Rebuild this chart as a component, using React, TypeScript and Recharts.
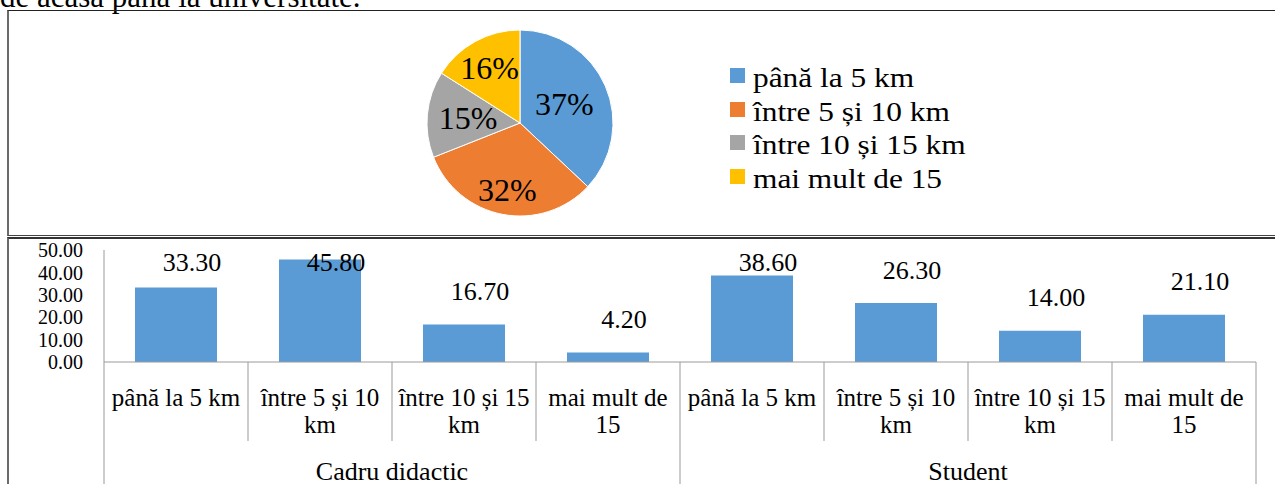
import { PieChart, Pie, Cell, Legend, BarChart, Bar, XAxis, YAxis, LabelList, Text } from "recharts";

const distanceLabels = ["până la 5 km", "între 5 și 10 km", "între 10 și 15 km", "mai mult de 15"];
const pieShares = [37, 32, 15, 16];
const respondentGroups = ["Cadru didactic", "Student"];
const cadruValues = [33.3, 45.8, 16.7, 4.2];
const studentValues = [38.6, 26.3, 14.0, 21.1];
const yTicks = [0, 10, 20, 30, 40, 50];

const pieColors = ["#5B9BD5", "#ED7D31", "#A5A5A5", "#FFC000"];
// Word put the pie labels at slightly different distances from the centre
const labelRadius = [0.52, 0.73, 0.56, 0.68];

const pieData = distanceLabels.map((name, i) => ({ name, value: pieShares[i] }));
const barData = [
  ...distanceLabels.map((name, i) => ({ name, group: respondentGroups[0], value: cadruValues[i] })),
  ...distanceLabels.map((name, i) => ({ name, group: respondentGroups[1], value: studentValues[i] })),
];

const FONT = '"Liberation Serif", "Times New Roman", serif';
const LINE = "#9a9a9a";
const RAD = Math.PI / 180;

// bar chart layout
const CHART_W = 1275;
const AXIS_W = 104;
const RIGHT = 19;
const TOP = 12;
const PLOT_H = 112;
const CAT_H = 79;
const GRP_H = 77;
const CHART_H = TOP + PLOT_H + CAT_H + GRP_H;
const BAND = (CHART_W - AXIS_W - RIGHT) / barData.length;

function PieLabel({ cx, cy, midAngle, outerRadius, index, percent }: any) {
  const r = outerRadius * labelRadius[index];
  const x = cx + r * Math.cos(-midAngle * RAD);
  const y = cy + r * Math.sin(-midAngle * RAD);
  return (
    <text x={x} y={y} textAnchor="middle" dominantBaseline="central" fontSize={32} fontFamily={FONT} fill="#000">
      {`${Math.round(percent * 100)}%`}
    </text>
  );
}

function PieLegend() {
  return (
    <div style={{ fontFamily: FONT, color: "#000" }}>
      {distanceLabels.map((label, i) => (
        <div key={label} style={{ display: "flex", alignItems: "center", height: 33.5 }}>
          <span style={{ width: 15, height: 15, background: pieColors[i], marginRight: 8, flex: "none" }} />
          <span
            style={{
              fontSize: 28,
              lineHeight: "33.5px",
              whiteSpace: "nowrap",
              display: "inline-block",
              transform: "translateY(2px) scaleX(1.12)",
              transformOrigin: "left center",
            }}
          >
            {label}
          </span>
        </div>
      ))}
    </div>
  );
}

function CategoryTick({ x, y, payload, index }: any) {
  const half = BAND / 2;
  return (
    <g>
      {index === 0 && <line x1={x - half} x2={x - half} y1={y} y2={y + CAT_H} stroke={LINE} />}
      <line x1={x + half} x2={x + half} y1={y} y2={y + CAT_H} stroke={LINE} />
      <Text
        x={x}
        y={y + 26}
        width={BAND - 4}
        textAnchor="middle"
        verticalAnchor="start"
        lineHeight={27}
        fontSize={25}
        fontFamily={FONT}
        fill="#000"
        style={{ fontSize: "25px", fontFamily: FONT }}
      >
        {payload.value}
      </Text>
    </g>
  );
}

function GroupTick({ x, y, payload, index }: any) {
  const half = BAND / 2;
  const perGroup = distanceLabels.length;
  const first = index % perGroup === 0;
  const last = index === barData.length - 1;
  return (
    <g>
      {first && <line x1={x - half} x2={x - half} y1={y} y2={y + GRP_H} stroke={LINE} />}
      {last && <line x1={x + half} x2={x + half} y1={y} y2={y + GRP_H} stroke={LINE} />}
      {first && (
        <text x={x - half + (BAND * perGroup) / 2} y={y + 39} textAnchor="middle" fontSize={26} fontFamily={FONT} fill="#000">
          {payload.value}
        </text>
      )}
    </g>
  );
}

function ValueLabel({ x, y, width, value }: any) {
  const cy = Math.max(TOP + 12, y - 33);
  return (
    <text x={x + width / 2 + 16} y={cy} textAnchor="middle" dominantBaseline="central" fontSize={26} fontFamily={FONT} fill="#000">
      {Number(value).toFixed(2)}
    </text>
  );
}

export default function App() {
  return (
    <div style={{ position: "absolute", left: 0, top: 0, width: 1275, height: 484, overflow: "hidden", background: "#fff", fontFamily: FONT }}>
      <svg width={1275} height={20} style={{ position: "absolute", left: 0, top: 0 }}>
        <text x={0} y={7} fontSize={31} fontFamily={FONT} fill="#000">
          de acasă până la universitate.
        </text>
      </svg>

      <div style={{ position: "absolute", left: 7, top: 10, width: 1290, height: 224, borderTop: "1px solid #222", borderLeft: "2px solid #6b6b6b", borderBottom: "1px solid #444" }} />
      <div style={{ position: "absolute", left: 7, top: 237, width: 1290, height: 260, borderTop: "2px solid #333", borderLeft: "2px solid #6b6b6b" }} />

      <div style={{ position: "absolute", left: 0, top: 0 }}>
        <PieChart width={1275} height={236} margin={{ top: 0, right: 0, bottom: 0, left: 0 }}>
          <Pie
            data={pieData}
            dataKey="value"
            nameKey="name"
            cx={520}
            cy={123}
            outerRadius={93}
            startAngle={90}
            endAngle={-270}
            stroke="#fff"
            strokeWidth={1}
            labelLine={false}
            label={PieLabel}
            isAnimationActive={false}
          >
            {pieData.map((d, i) => (
              <Cell key={d.name} fill={pieColors[i]} />
            ))}
          </Pie>
          <Legend
            layout="vertical"
            align="center"
            verticalAlign="middle"
            content={<PieLegend />}
            wrapperStyle={{ left: 730, top: 59, width: 320 }}
          />
        </PieChart>
      </div>

      <div style={{ position: "absolute", left: 0, top: 238 }}>
        <BarChart width={CHART_W} height={CHART_H} data={barData} margin={{ top: TOP, right: RIGHT, bottom: 0, left: 0 }}>
          <YAxis
            width={AXIS_W}
            domain={[0, 50]}
            ticks={yTicks}
            interval={0}
            tickSize={0}
            tickMargin={21}
            tickLine={false}
            axisLine={{ stroke: LINE }}
            tickFormatter={(v: number) => v.toFixed(2)}
            tick={{ fontSize: 20, fill: "#000", fontFamily: FONT }}
          />
          <XAxis
            dataKey="name"
            height={CAT_H}
            interval={0}
            tickSize={0}
            tickMargin={0}
            tickLine={false}
            axisLine={{ stroke: LINE }}
            tick={<CategoryTick />}
          />
          <XAxis
            xAxisId="grp"
            dataKey="group"
            height={GRP_H}
            interval={0}
            tickSize={0}
            tickMargin={0}
            tickLine={false}
            axisLine={false}
            tick={<GroupTick />}
          />
          <Bar dataKey="value" fill="#5B9BD5" barSize={82} isAnimationActive={false}>
            <LabelList dataKey="value" content={<ValueLabel />} />
          </Bar>
        </BarChart>
      </div>
    </div>
  );
}
